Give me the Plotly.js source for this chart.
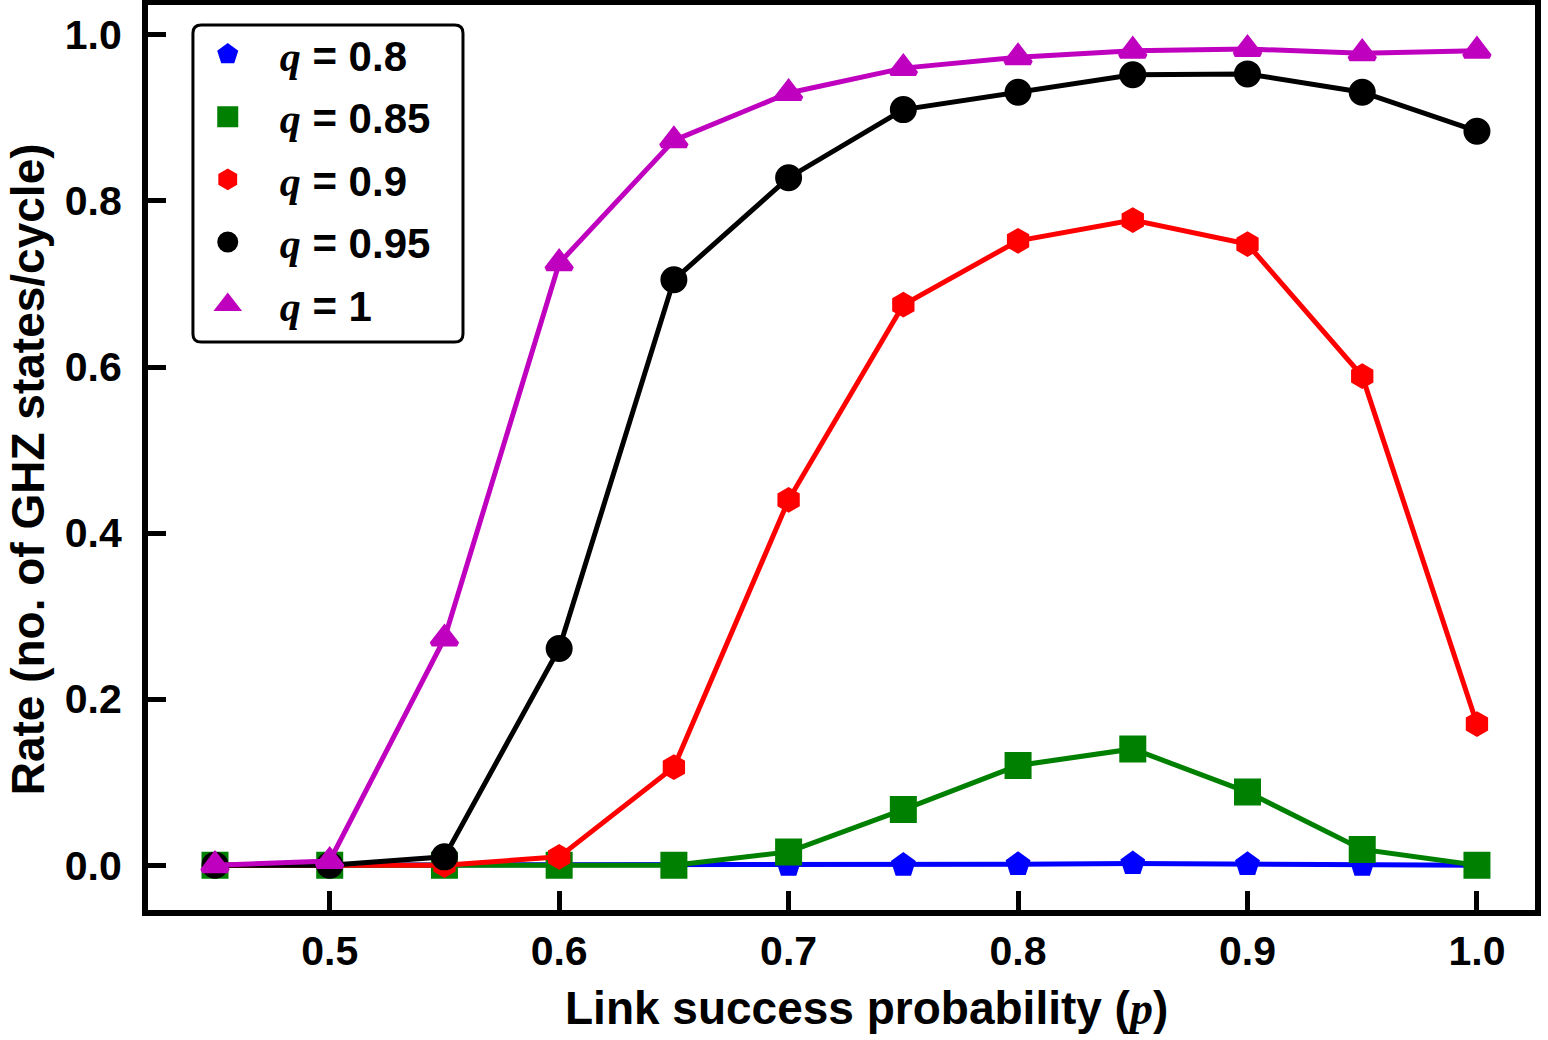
<!DOCTYPE html>
<html>
<head>
<meta charset="utf-8">
<script src="https://cdn.plot.ly/plotly-3.0.1.min.js"></script>
<style>
  body { margin: 0; background: #fff; }
  #graph { width: 1548px; height: 1040px; }
</style>
</head>
<body>
<div id="graph"></div>
<script>
// link success probability p
var p = [0.45, 0.5, 0.55, 0.6, 0.65, 0.7, 0.75, 0.8, 0.85, 0.9, 0.95, 1.0];

// rate (GHZ states / cycle) for each q
var rateQ080 = [0, 0, 0, 0, 0, 0, 0, 0.001, 0.002, 0.001, 0, 0];
var rateQ085 = [0, 0, 0, 0, 0, 0.016, 0.067, 0.12, 0.14, 0.088, 0.019, 0];
var rateQ090 = [0, 0, 0, 0.01, 0.118, 0.44, 0.675, 0.752, 0.777, 0.748, 0.589, 0.17];
var rateQ095 = [0, 0, 0.01, 0.261, 0.705, 0.828, 0.91, 0.931, 0.952, 0.953, 0.931, 0.884];
var rateQ100 = [0, 0.005, 0.273, 0.725, 0.873, 0.93, 0.96, 0.973, 0.981, 0.983, 0.978, 0.981];

var qLabels = ['0.8', '0.85', '0.9', '0.95', '1'];
var xTicks = [0.5, 0.6, 0.7, 0.8, 0.9, 1.0];
var yTicks = [0, 0.2, 0.4, 0.6, 0.8, 1.0];

var sansBold = 'Liberation Sans, Arial, sans-serif';
var italicVar = function(s) {
    return '<span style="font-family:Liberation Serif, Times New Roman, serif;font-style:italic;font-weight:bold">' + s + '</span>';
};

var graphData = [];

// each series: a line trace (no legend) and a marker trace (legend shows marker only)
function addSeries(y, i, color, symbol, size) {
    graphData.push({
        x: p,
        y: y,
        mode: 'lines',
        showlegend: false,
        legendgroup: 'g' + i,
        hoverinfo: 'skip',
        line: { color: color, width: 5 }
    });
    graphData.push({
        x: p,
        y: y,
        mode: 'markers',
        name: italicVar('q') + ' = ' + qLabels[i],
        legendgroup: 'g' + i,
        marker: { color: color, symbol: symbol, size: size, line: { color: color, width: 5 } }
    });
}

addSeries(rateQ080, 0, '#0000ff', 'pentagon', 20);
addSeries(rateQ085, 1, '#008000', 'square', 22);
addSeries(rateQ090, 2, '#ff0000', 'hexagon', 20);
addSeries(rateQ095, 3, '#000000', 'circle', 22);
addSeries(rateQ100, 4, '#bf00bf', 'triangle-up', 22);

// rounded legend frame (pixel box 193..463 x 25..342 mapped to plot-area fractions)
var fx0 = 0.0324, fx1 = 0.2271, fy0 = 0.6276, fy1 = 0.9779, rx = 0.006, ry = 0.009;
var framePath = 'M ' + (fx0 + rx) + ' ' + fy1 +
    ' L ' + (fx1 - rx) + ' ' + fy1 + ' Q ' + fx1 + ' ' + fy1 + ' ' + fx1 + ' ' + (fy1 - ry) +
    ' L ' + fx1 + ' ' + (fy0 + ry) + ' Q ' + fx1 + ' ' + fy0 + ' ' + (fx1 - rx) + ' ' + fy0 +
    ' L ' + (fx0 + rx) + ' ' + fy0 + ' Q ' + fx0 + ' ' + fy0 + ' ' + fx0 + ' ' + (fy0 + ry) +
    ' L ' + fx0 + ' ' + (fy1 - ry) + ' Q ' + fx0 + ' ' + fy1 + ' ' + (fx0 + rx) + ' ' + fy1 + ' Z';

var layout = {
    width: 1548,
    height: 1040,
    margin: { l: 148, r: 13, t: 5, b: 130 },
    paper_bgcolor: '#ffffff',
    plot_bgcolor: '#ffffff',
    showlegend: true,
    font: { family: sansBold, color: '#000', size: 40, weight: 'bold' },
    xaxis: {
        range: [0.4208, 1.0253],
        tickvals: xTicks,
        ticktext: xTicks.map(function(v) { return v.toFixed(1); }),
        ticks: 'inside',
        ticklen: 19,
        tickwidth: 5,
        tickcolor: '#000',
        showline: true,
        linewidth: 6,
        linecolor: '#000',
        mirror: true,
        showgrid: false,
        zeroline: false,
        tickfont: { family: sansBold, size: 41, weight: 'bold' }
    },
    yaxis: {
        range: [-0.054, 1.036],
        tickvals: yTicks,
        ticktext: yTicks.map(function(v) { return v.toFixed(1); }),
        ticks: 'inside',
        ticklen: 18,
        tickwidth: 5,
        tickcolor: '#000',
        showline: true,
        linewidth: 6,
        linecolor: '#000',
        mirror: true,
        showgrid: false,
        zeroline: false,
        ticklabelstandoff: 12,
        tickfont: { family: sansBold, size: 41, weight: 'bold' }
    },
    // axis titles as annotations so they sit where the reference has them
    annotations: [{
        text: 'Link success probability (' + italicVar('p') + ')',
        xref: 'paper', yref: 'paper',
        x: 0.5177, y: -0.108,
        xanchor: 'center', yanchor: 'middle',
        showarrow: false,
        font: { family: sansBold, size: 46, weight: 'bold', color: '#000' }
    }, {
        text: 'Rate (no. of GHZ states/cycle)',
        xref: 'paper', yref: 'paper',
        x: -0.0865, y: 0.487,
        xanchor: 'center', yanchor: 'middle',
        textangle: -90,
        showarrow: false,
        font: { family: sansBold, size: 46, weight: 'bold', color: '#000' }
    }],
    shapes: [{
        type: 'path',
        xref: 'paper',
        yref: 'paper',
        path: framePath,
        fillcolor: '#ffffff',
        line: { color: '#000', width: 3 },
        layer: 'above'
    }],
    legend: {
        x: 0.020,
        y: 0.983,
        xanchor: 'left',
        yanchor: 'top',
        bgcolor: 'rgba(0,0,0,0)',
        borderwidth: 0,
        itemwidth: 94,
        tracegroupgap: 5,
        font: { family: sansBold, size: 42, weight: 'bold' }
    }
};

Plotly.newPlot('graph', graphData, layout, { displayModeBar: false });
</script>
</body>
</html>
